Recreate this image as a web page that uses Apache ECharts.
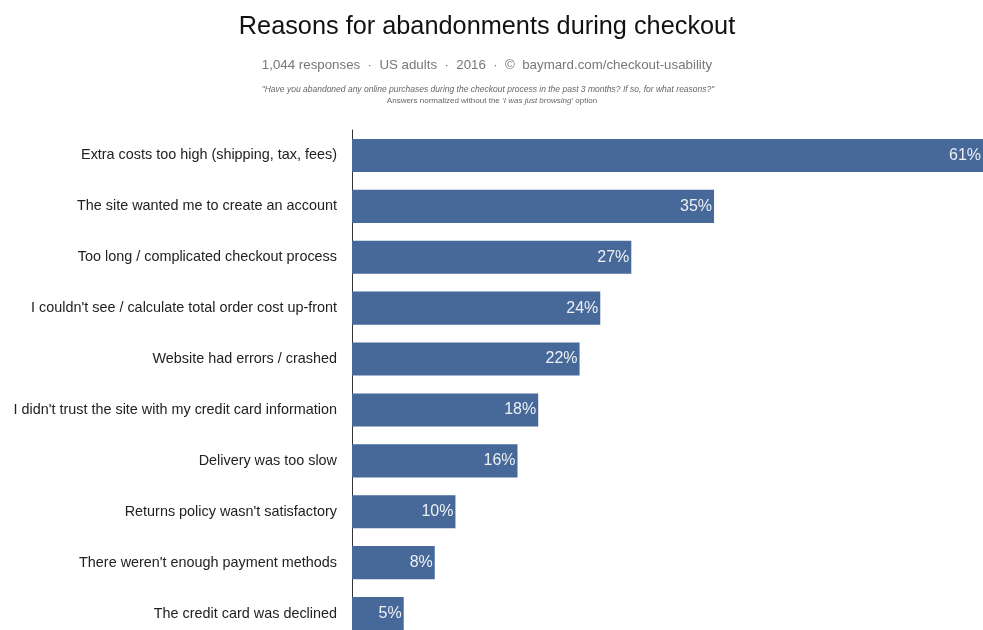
<!DOCTYPE html>
<html>
<head>
<meta charset="utf-8">
<script src="https://cdn.jsdelivr.net/npm/echarts@6/dist/echarts.min.js"></script>
<style>
  html, body { margin: 0; padding: 0; background: #fff; }
  #chart { width: 983px; height: 630px; }
</style>
</head>
<body>
<div id="chart"></div>
<script>
// reasons, top to bottom
const reasons = [
    'Extra costs too high (shipping, tax, fees)',
    'The site wanted me to create an account',
    'Too long / complicated checkout process',
    "I couldn't see / calculate total order cost up-front",
    'Website had errors / crashed',
    "I didn't trust the site with my credit card information",
    'Delivery was too slow',
    "Returns policy wasn't satisfactory",
    "There weren't enough payment methods",
    'The credit card was declined'
];
const shares = [61, 35, 27, 24, 22, 18, 16, 10, 8, 5];

const titleText = 'Reasons for abandonments during checkout';
const subText = '1,044 responses  \u00b7  US adults  \u00b7  2016  \u00b7  \u00a9  baymard.com/checkout-usability';
const noteText = '"Have you abandoned any online purchases during the checkout process in the past 3 months? If so, for what reasons?"';

const font = '"Liberation Sans", Arial, sans-serif';

const chart = echarts.init(document.getElementById('chart'));

const option = {
    backgroundColor: '#fff',
    animation: false,
    title: [
        {
            text: titleText,
            left: 482, top: 10, textAlign: 'center',
            textStyle: { fontFamily: font, fontSize: 25.3, fontWeight: 'normal', color: '#111' }
        },
        {
            text: subText,
            left: 482, top: 54, textAlign: 'center',
            textStyle: { fontFamily: font, fontSize: 13.3, fontWeight: 'normal', color: '#777' }
        },
        {
            text: noteText,
            left: 483, top: 80, textAlign: 'center',
            textStyle: { fontFamily: font, fontSize: 8.5, fontStyle: 'italic', fontWeight: 'normal', color: '#666' }
        },
        {
            text: 'Answers normalized without the {i|\u2018I was just browsing\u2019} option',
            left: 487, top: 92, textAlign: 'center',
            textStyle: {
                fontFamily: font, fontSize: 8, fontWeight: 'normal', color: '#666',
                rich: { i: { fontFamily: font, fontSize: 8, fontStyle: 'italic', color: '#666' } }
            }
        }
    ],
    // grid runs past the bottom edge, the last bar is cut like in the source image
    grid: { left: 352, right: 0, top: 130, height: 509, containLabel: false, outerBoundsMode: 'none' },
    xAxis: {
        type: 'value',
        min: 0,
        max: 61,
        show: false
    },
    yAxis: {
        type: 'category',
        inverse: true,
        data: reasons,
        axisLine: { show: true, lineStyle: { color: '#333', width: 1 } },
        axisTick: { show: false },
        axisLabel: { fontFamily: font, fontSize: 14.4, color: '#222', margin: 15 }
    },
    series: [{
        type: 'bar',
        data: shares,
        barCategoryGap: '35%',
        itemStyle: { color: '#46699a' },
        label: {
            show: true,
            position: 'insideRight',
            distance: 2,
            formatter: '{c}%',
            fontFamily: font,
            fontSize: 16,
            color: '#eef0f4'
        }
    }]
};

chart.setOption(option);
</script>
</body>
</html>
